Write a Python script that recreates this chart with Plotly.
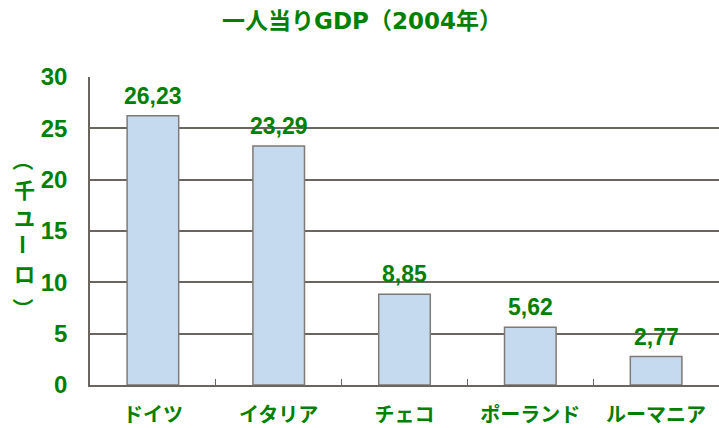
import plotly.graph_objects as go

categories = ["ドイツ", "イタリア", "チェコ", "ポーランド", "ルーマニア"]
values = [26.23, 23.29, 8.85, 5.62, 2.77]
y_ticks = [0, 5, 10, 15, 20, 25, 30]
y_title_chars = ["（", "千", "ユ", "ー", "ロ", "）"]

GREEN = "#008000"
FONT = "Liberation Sans, Arial, Noto Sans CJK JP"
CJK = "Noto Sans CJK JP"

labels = [f"{v:.2f}".replace(".", ",") for v in values]

fig = go.Figure()
fig.add_trace(go.Bar(
    x=categories, y=values,
    marker=dict(color="#c6daef", line=dict(color="#7f7a75", width=1.5)),
    width=0.41,
    hoverinfo="skip",
))

for c, v, t in zip(categories, values, labels):
    fig.add_annotation(x=c, y=v, text=f"<b>{t}</b>", showarrow=False,
                       yanchor="bottom", yshift=5,
                       font=dict(family=FONT, size=23, color=GREEN))

# vertical y-axis title, one character per row
title_y = [160, 189, 217, 244, 273, 308]
for ch, py in zip(y_title_chars, title_y):
    rotate = ch in ("（", "）", "ー")
    fig.add_annotation(xref="paper", yref="paper",
                       x=(24 - 90) / 629, y=(385 - py) / 308,
                       xanchor="center", yanchor="middle",
                       text=f"<b>{ch}</b>", showarrow=False,
                       textangle=90 if rotate else 0,
                       font=dict(family=CJK, size=21, color=GREEN))

fig.update_layout(
    width=719, height=428,
    margin=dict(l=90, r=0, t=77, b=43),
    paper_bgcolor="white", plot_bgcolor="white",
    showlegend=False,
    title=dict(text="<b>一人当りGDP（2004年）</b>", x=362 / 719, xanchor="center",
               y=1 - 21 / 428, yanchor="middle",
               font=dict(family="DejaVu Sans, Noto Sans CJK JP", size=23, color=GREEN)),
    xaxis=dict(
        range=[-0.5, 4.5],
        showline=True, linecolor="#6b6560", linewidth=1.5,
        ticks="inside", tickson="boundaries", ticklen=6, tickcolor="#6b6560",
        tickfont=dict(family=CJK, size=20, color=GREEN, weight="bold"),
        ticklabelstandoff=11,
        showgrid=False,
        automargin=False,
    ),
    yaxis=dict(
        range=[0, 30],
        tickvals=y_ticks,
        showline=True, linecolor="#6b6560", linewidth=1.5,
        showgrid=True, gridcolor="#6b6560", gridwidth=1.5,
        zeroline=False,
        tickfont=dict(family=FONT, size=24, color=GREEN, weight="bold"),
        ticklabelstandoff=16,
        automargin=False,
    ),
)

fig.write_html("out.html", config={"displayModeBar": False},
               post_script="document.body.style.margin='0';")
